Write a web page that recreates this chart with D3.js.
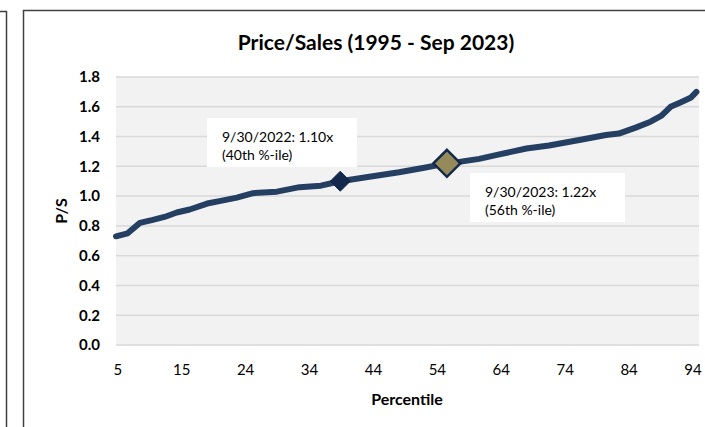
<!DOCTYPE html>
<html>
<head>
<meta charset="utf-8">
<script src="https://cdn.jsdelivr.net/npm/d3@7"></script>
<style>
  body { margin: 0; background: #fff; }
  svg { display: block; font-family: Lato, "Open Sans", sans-serif; }
</style>
</head>
<body>
<div id="chart"></div>
<script>
// Price/Sales percentile curve
var percentile = [4.8, 6.6, 8.5, 10.5, 12.3, 14.2, 16.2, 18.9, 21.2, 23.5, 26.0, 29.7, 33.2, 36.5, 39.5,
                  44.0, 48.6, 52.5, 56.0, 57.9, 61.0, 64.1, 68.3, 71.8, 76.9, 80.6, 82.6, 85.2, 87.5,
                  89.2, 90.6, 92.2, 93.7, 94.6];
var ps = [0.73, 0.75, 0.82, 0.84, 0.86, 0.89, 0.91, 0.95, 0.97, 0.99, 1.02, 1.03, 1.06, 1.07, 1.10,
          1.13, 1.16, 1.19, 1.22, 1.23, 1.25, 1.28, 1.32, 1.34, 1.38, 1.41, 1.42, 1.46, 1.50,
          1.54, 1.60, 1.63, 1.66, 1.70];
var tickLabels = ["5", "15", "24", "34", "44", "54", "64", "74", "84", "94"];
var yTicks = [0, 0.2, 0.4, 0.6, 0.8, 1.0, 1.2, 1.4, 1.6, 1.8];
var markers = [
  {p: 39.5, v: 1.10, lines: ["9/30/2022: 1.10x", "(40th %-ile)"]},
  {p: 56.0, v: 1.22, lines: ["9/30/2023: 1.22x", "(56th %-ile)"]}
];

var width = 705, height = 427;
var svg = d3.select("#chart").append("svg")
  .attr("width", width)
  .attr("height", height);

// frames
svg.append("path")
  .attr("d", "M0,11.5H6.5V427")
  .attr("fill", "none")
  .attr("stroke", "#404040")
  .attr("stroke-width", 1.5);
svg.append("rect")
  .attr("x", 23.5).attr("y", 10.5)
  .attr("width", 700).attr("height", 430)
  .attr("fill", "#fff")
  .attr("stroke", "#404040")
  .attr("stroke-width", 1.5);

var plotL = 116, plotR = 699, plotT = 77, plotB = 345;
var x = d3.scaleLinear().domain([4.8, 95]).range([plotL, plotR]);
var y = d3.scaleLinear().domain([0, 1.8]).range([plotB, plotT]);

svg.append("rect")
  .attr("x", plotL).attr("y", plotT)
  .attr("width", plotR - plotL).attr("height", plotB - plotT)
  .attr("fill", "#f2f2f2");

// gridlines
svg.append("g")
  .selectAll("line")
  .data(yTicks)
  .enter()
  .append("line")
  .attr("x1", plotL).attr("x2", plotR)
  .attr("y1", function(d) { return y(d); })
  .attr("y2", function(d) { return y(d); })
  .attr("stroke", "#d9d9d9")
  .attr("stroke-width", 1.5);

// y axis
var yAxis = d3.axisLeft(y).tickValues(yTicks).tickFormat(d3.format(".1f")).tickSize(0).tickPadding(16);
svg.append("g")
  .attr("transform", "translate(" + plotL + ",0)")
  .call(yAxis)
  .call(function(g) { g.select(".domain").remove(); })
  .selectAll("text")
  .attr("font-size", 15)
  .attr("font-weight", "bold")
  .attr("font-family", "Lato, sans-serif")
  .attr("fill", "#000");

// x axis: category labels evenly spaced
var step = (94 - 5) / (tickLabels.length - 1);
var xAxis = d3.axisBottom(x)
  .tickValues(tickLabels.map(function(d, i) { return 5 + i * step; }))
  .tickFormat(function(d, i) { return tickLabels[i]; })
  .tickSize(0).tickPadding(19);
svg.append("g")
  .attr("transform", "translate(0," + plotB + ")")
  .call(xAxis)
  .call(function(g) { g.select(".domain").remove(); })
  .selectAll("text")
  .attr("font-size", 15)
  .attr("font-family", "Lato, sans-serif")
  .attr("fill", "#000");

// line
var data = percentile.map(function(p, i) { return {p: p, v: ps[i]}; });
var line = d3.line()
  .x(function(d) { return x(d.p); })
  .y(function(d) { return y(d.v); });
svg.append("path")
  .datum(data)
  .attr("d", line)
  .attr("fill", "none")
  .attr("stroke", "#243f62")
  .attr("stroke-width", 6)
  .attr("stroke-linejoin", "round")
  .attr("stroke-linecap", "round");

// annotation boxes
var boxes = [{bx: 207, by: 118, w: 150, h: 49}, {bx: 470, by: 173, w: 155, h: 49}];
markers.forEach(function(m, i) {
  var b = boxes[i];
  svg.append("rect")
    .attr("x", b.bx).attr("y", b.by)
    .attr("width", b.w).attr("height", b.h)
    .attr("fill", "#fff");
  svg.append("text")
    .attr("x", b.bx + 15).attr("y", b.by + 24)
    .attr("font-size", 14)
    .text(m.lines[0]);
  svg.append("text")
    .attr("x", b.bx + 15).attr("y", b.by + 42)
    .attr("font-size", 14)
    .text(m.lines[1]);
});

// markers
var diamond = function(r) { return "M0," + (-r) + "L" + r + ",0L0," + r + "L" + (-r) + ",0Z"; };
svg.append("path")
  .attr("transform", "translate(" + x(markers[0].p) + "," + y(markers[0].v) + ")")
  .attr("d", diamond(10))
  .attr("fill", "#13284a")
  .attr("stroke", "#13284a")
  .attr("stroke-width", 1);
svg.append("path")
  .attr("transform", "translate(" + x(markers[1].p) + "," + y(markers[1].v) + ")")
  .attr("d", diamond(13.5))
  .attr("fill", "#958b5a")
  .attr("stroke", "#13284a")
  .attr("stroke-width", 2.5);

// titles
svg.append("text")
  .attr("x", 376).attr("y", 50)
  .attr("text-anchor", "middle")
  .attr("font-size", 21)
  .attr("font-weight", "bold")
  .text("Price/Sales (1995 - Sep 2023)");
svg.append("text")
  .attr("x", 407).attr("y", 405)
  .attr("text-anchor", "middle")
  .attr("font-size", 16)
  .attr("font-weight", "bold")
  .text("Percentile");
svg.append("text")
  .attr("transform", "translate(67,211) rotate(-90)")
  .attr("text-anchor", "middle")
  .attr("font-size", 16)
  .attr("font-weight", "bold")
  .text("P/S");
</script>
</body>
</html>
